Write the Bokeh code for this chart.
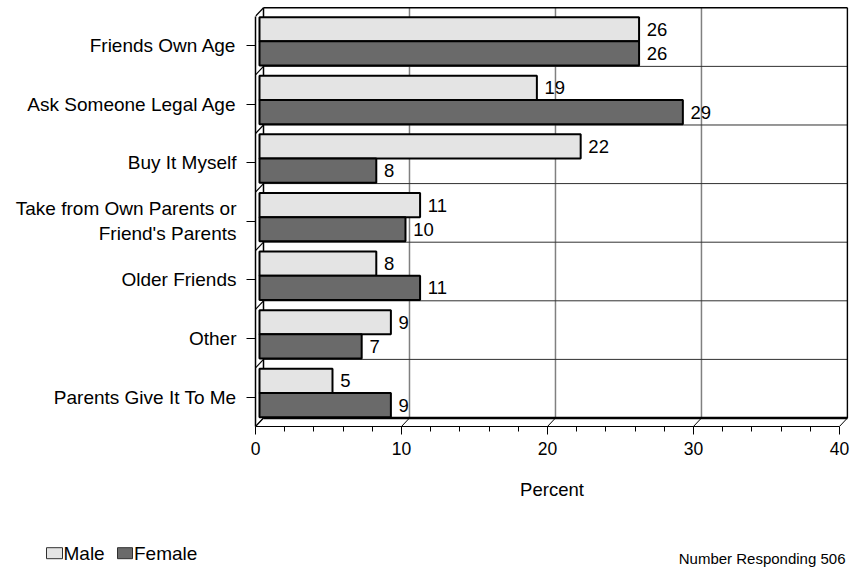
from bokeh.plotting import figure
from bokeh.layouts import column
from bokeh.models import FixedTicker, Label, ColumnDataSource, Range1d
from bokeh.core.properties import value
from bokeh.embed import file_html
from bokeh.resources import INLINE

# ---- data ----
categories = ["Friends Own Age", "Ask Someone Legal Age", "Buy It Myself",
              "Take from Own Parents or\nFriend's Parents", "Older Friends",
              "Other", "Parents Give It To Me"]
male = [26, 19, 22, 11, 8, 9, 5]
female = [26, 29, 8, 10, 11, 7, 9]
x_ticks = [0, 10, 20, 30, 40]
x_minor = [2, 4, 6, 8, 12, 14, 16, 18, 22, 24, 26, 28, 32, 34, 36, 38]
series_names = ["Male", "Female"]
note = "Number Responding 506"

FONT = "Liberation Sans"
MALE_C = "#e4e4e4"
FEMALE_C = "#6a6a6a"

# depth offsets of the pseudo-3D wall (in data units)
DX = 0.548
DY = 0.145
BAR_H = 0.413
LBL_GAP = 0.527

n = len(categories)
ypos = [n - 1 - i for i in range(n)]  # top category at highest y
xmax = x_ticks[-1]
ylo, yhi = -0.5, n - 0.5

p = figure(width=852, height=520,
           x_range=Range1d(0, 40.62), y_range=Range1d(ylo, 6.684),
           output_backend="svg", toolbar_location=None,
           min_border_left=255, min_border_right=4,
           min_border_top=5, min_border_bottom=94)
p.frame_align = False
p.xgrid.visible = False
p.ygrid.visible = False
p.outline_line_color = None
p.background_fill_color = "white"

# ---- back wall / floor construction lines ----
p.segment(x0=[t + DX for t in x_ticks[1:-1]], y0=[ylo + DY] * 3,
          x1=[t + DX for t in x_ticks[1:-1]], y1=[yhi + DY] * 3,
          line_color="#808080", line_width=1.5)
seps = [k + 0.5 for k in range(n - 1)]
p.segment(x0=[DX] * len(seps), y0=[s + DY for s in seps],
          x1=[xmax + DX] * len(seps), y1=[s + DY for s in seps],
          line_color="#303030", line_width=1)
p.segment(x0=[DX, xmax + DX, DX], y0=[yhi + DY, ylo + DY, ylo + DY],
          x1=[xmax + DX, xmax + DX, DX], y1=[yhi + DY, yhi + DY, yhi + DY],
          line_color="black", line_width=1.5)
p.segment(x0=[DX], y0=[ylo + DY], x1=[xmax + DX], y1=[ylo + DY],
          line_color="black", line_width=2.5)
lefts = [ylo] + seps + [yhi]
p.segment(x0=[0] * len(lefts), y0=lefts, x1=[DX] * len(lefts),
          y1=[v + DY for v in lefts], line_color="black", line_width=1.2)
p.segment(x0=x_ticks, y0=[ylo] * len(x_ticks),
          x1=[t + DX for t in x_ticks], y1=[ylo + DY] * len(x_ticks),
          line_color="black", line_width=1)

# ---- bars ----
src = ColumnDataSource(dict(
    ym=[y + DY / 2 + BAR_H / 2 for y in ypos],
    yf=[y + DY / 2 - BAR_H / 2 for y in ypos],
    left=[DX / 2] * n,
    rm=[v + DX / 2 for v in male],
    rf=[v + DX / 2 for v in female],
    lxm=[v + DX / 2 + LBL_GAP for v in male],
    lxf=[v + DX / 2 + LBL_GAP for v in female],
    tm=[str(v) for v in male],
    tf=[str(v) for v in female],
))
p.hbar(y="ym", left="left", right="rm", height=BAR_H, source=src,
       fill_color=MALE_C, line_color="black", line_width=2)
p.hbar(y="yf", left="left", right="rf", height=BAR_H, source=src,
       fill_color=FEMALE_C, line_color="black", line_width=2)

for xcol, ycol, tcol in [("lxm", "ym", "tm"), ("lxf", "yf", "tf")]:
    p.text(x=xcol, y=ycol, text=tcol, source=src, text_align="left",
           text_baseline="middle", text_font=value(FONT),
           text_font_size="18.5px", text_color="black")

# ---- axes ----
xa = p.xaxis[0]
xa.ticker = FixedTicker(ticks=x_ticks, minor_ticks=x_minor)
xa.bounds = (0, xmax)
xa.axis_line_color = "black"
xa.axis_line_width = 1.2
xa.major_tick_in = 0
xa.major_tick_out = 8
xa.minor_tick_in = 0
xa.minor_tick_out = 5
xa.major_tick_line_color = "black"
xa.minor_tick_line_color = "black"
xa.major_label_text_font = FONT
xa.major_label_text_font_size = "17.5px"
xa.major_label_text_color = "black"
xa.major_label_standoff = 7
xa.axis_label = "Percent"
xa.axis_label_text_font = FONT
xa.axis_label_text_font_size = "18.5px"
xa.axis_label_text_font_style = "normal"
xa.axis_label_text_color = "black"
xa.axis_label_standoff = 21

ya = p.yaxis[0]
ya.ticker = FixedTicker(ticks=ypos, minor_ticks=[])
ya.major_label_overrides = {y: c for y, c in zip(ypos, categories)}
ya.bounds = (ylo, yhi)
ya.axis_line_color = "black"
ya.axis_line_width = 1.5
ya.major_tick_in = 0
ya.major_tick_out = 9
ya.minor_tick_out = 0
ya.minor_tick_in = 0
ya.major_tick_line_color = "black"
ya.major_label_text_font = FONT
ya.major_label_text_font_size = "19px"
ya.major_label_text_color = "black"
ya.major_label_standoff = 10

# ---- footer strip: legend + note (pixel-space strip) ----
f = figure(width=852, height=50, x_range=Range1d(0, 852), y_range=Range1d(0, 50),
           output_backend="svg", toolbar_location=None,
           x_axis_location=None, y_axis_location=None,
           min_border_left=0, min_border_right=0, min_border_top=0, min_border_bottom=0)
f.frame_align = False
f.xgrid.visible = False
f.ygrid.visible = False
f.outline_line_color = None
f.rect(x=[54, 124.5], y=[17.3, 17.3], width=[16, 15], height=[11, 11],
       fill_color=[MALE_C, FEMALE_C], line_color="#303030", line_width=1)
f.text(x=[63, 133.5], y=[17.3, 17.3], text=series_names, text_align="left",
       text_baseline="middle", text_font=value(FONT), text_font_size="19px",
       text_color="black")
f.add_layout(Label(x=845, y=12, text=note, text_align="right",
                   text_baseline="middle", text_font=FONT,
                   text_font_size="15px", text_color="black"))

layout = column(p, f, spacing=0)
open("out.html", "w").write(file_html(layout, INLINE))
